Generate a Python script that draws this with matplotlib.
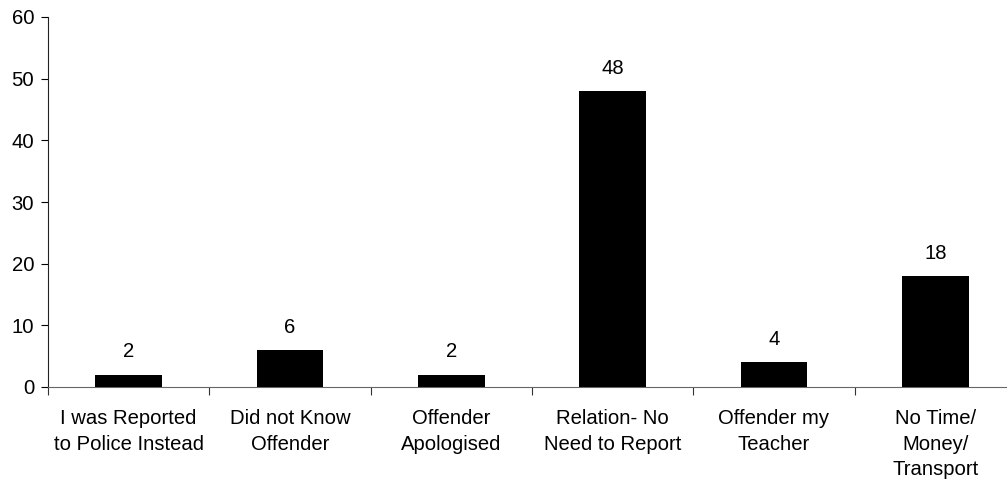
import matplotlib
matplotlib.use("Agg")
import matplotlib.pyplot as plt
import numpy as np

categories = ["I was Reported\nto Police Instead", "Did not Know\nOffender", "Offender\nApologised",
              "Relation- No\nNeed to Report", "Offender my\nTeacher", "No Time/\nMoney/\nTransport"]
values = [2, 6, 2, 48, 4, 18]
yticks = [0, 10, 20, 30, 40, 50, 60]

FS = 14.6
plt.rcParams['font.family'] = ['Liberation Sans', 'DejaVu Sans']
fig = plt.figure(figsize=(10.07, 4.83), dpi=100)
W, H = 1007, 483
ax = fig.add_axes([48 / W, (H - 387) / H, (1016 - 48) / W, (387 - 17) / H])

x = np.arange(len(categories))
ax.bar(x, values, width=0.415, color='black', zorder=3)
ax.set_xlim(-0.5, len(categories) - 0.5)
ax.set_ylim(0, 60)
ax.set_yticks(yticks)
ax.set_yticklabels([str(v) for v in yticks], fontsize=FS)
ax.set_xticks(np.arange(len(categories) + 1) - 0.5)
ax.set_xticklabels([])
ax.set_xticks(x, minor=True)
ax.set_xticklabels(categories, minor=True, fontsize=FS, linespacing=1.43, va='top')
ax.tick_params(axis='x', which='minor', length=0, pad=16)
ax.tick_params(axis='x', which='major', length=6, direction='out', color='#333333')
ax.tick_params(axis='y', length=5, direction='out', pad=5)
for s in ['top', 'right']:
    ax.spines[s].set_visible(False)
ax.spines['left'].set_color('#222222')
ax.spines['bottom'].set_color('#666666')

for xi, v in zip(x, values):
    ax.annotate(str(v), (xi, v), xytext=(0, 9.5), textcoords='offset points',
                ha='center', va='bottom', fontsize=FS)

fig.savefig("out.png", dpi=100)
